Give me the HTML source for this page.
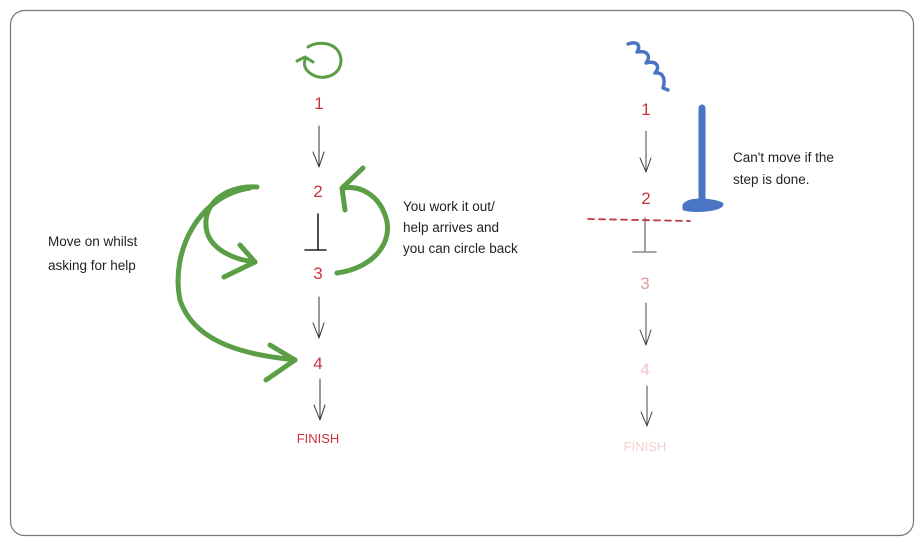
<!DOCTYPE html>
<html><head><style>
html,body{margin:0;padding:0;background:#fff;}
svg{display:block;}
text{font-family:"Liberation Sans",sans-serif;}
</style></head><body>
<svg width="924" height="545" viewBox="0 0 924 545" xmlns="http://www.w3.org/2000/svg">
<rect x="10.5" y="10.5" width="903" height="525" rx="14" fill="#fff" stroke="#777" stroke-width="1.2"/>
<g fill="none" stroke-linecap="round" stroke-linejoin="round">
<!-- left green circle icon -->
<path d="M308 47 C 318 40, 340 42, 341 60 C 341 75, 325 80, 315 76 C 306 72, 303 66, 305 60" stroke="#5a9e45" stroke-width="3"/>
<path d="M297 61 L305 57 L313 62" stroke="#5a9e45" stroke-width="3"/>
<!-- left arrows -->
<g stroke="#333" stroke-width="1">
<path d="M319 126 L319 167 M313 152 L319 167 L324 152"/>
<path d="M319 297 L319 338 M313 323 L319 338 L324 323"/>
<path d="M320 379 L320 420 M314 405 L320 420 L325 405"/>
</g>
<path d="M318 214 L318 250 M305 250 L326 250" stroke="#222" stroke-width="1.6"/>
<!-- green arcs -->
<g stroke="#5a9e45" stroke-width="5">
<path d="M257 187 C 225 185, 200 205, 207 232 C 212 250, 235 260, 255 262"/>
<path d="M240 245 L255 262 L224 277"/>
<path d="M250 188 C 200 195, 170 250, 180 300 C 195 345, 250 355, 295 360"/>
<path d="M270 345 L295 360 L266 380"/>
<path d="M337 273 C 375 268, 395 240, 385 215 C 378 195, 360 185, 343 188"/>
<path d="M363 168 L342 188 L345 210"/>
</g>
<!-- right side -->
<path d="M628 44 C 640 40, 640 48, 637 52 C 650 50, 650 58, 646 63 C 658 60, 660 68, 655 73 C 665 72, 665 82, 663 88 L668 90" stroke="#4a74c4" stroke-width="3.5"/>
<g stroke="#444" stroke-width="1">
<path d="M646 131 L646 172 M640 158 L646 172 L651 158"/>
<path d="M646 303 L646 345 M640 330 L646 345 L651 330"/>
<path d="M647 386 L647 426 M641 412 L647 426 L652 412"/>
</g>
<path d="M645 218 L645 252 M633 252 L656 252" stroke="#888" stroke-width="1.6"/>
<path d="M588 219 L690 221" stroke="#c0393b" stroke-width="1.8" stroke-dasharray="6 5"/>
<path d="M702 108 L702 200" stroke="#4a74c4" stroke-width="7"/>
<path d="M684 205 C 690 197, 715 200, 722 204 C 722 210, 695 212, 684 209 Z" fill="#4a74c4" stroke="#4a74c4" stroke-width="3"/>
</g>
<g font-size="17" text-anchor="middle" fill="#c9343a">
<text x="319" y="109">1</text>
<text x="318" y="197">2</text>
<text x="318" y="279">3</text>
<text x="318" y="369">4</text>
<text x="318" y="443" font-size="13">FINISH</text>
<text x="646" y="115">1</text>
<text x="646" y="204">2</text>
<text x="645" y="289" fill="#e39a9c">3</text>
<text x="645" y="375" fill="#f0c4c6">4</text>
<text x="645" y="451" font-size="13" fill="#f2cfd0">FINISH</text>
</g>
<g font-size="13.5" fill="#222">
<text x="48" y="246">Move on whilst</text>
<text x="48" y="270">asking for help</text>
<text x="403" y="211">You work it out/</text>
<text x="403" y="232">help arrives and</text>
<text x="403" y="253">you can circle back</text>
<text x="733" y="162">Can't move if the</text>
<text x="733" y="184">step is done.</text>
</g>
</svg>
</body></html>
